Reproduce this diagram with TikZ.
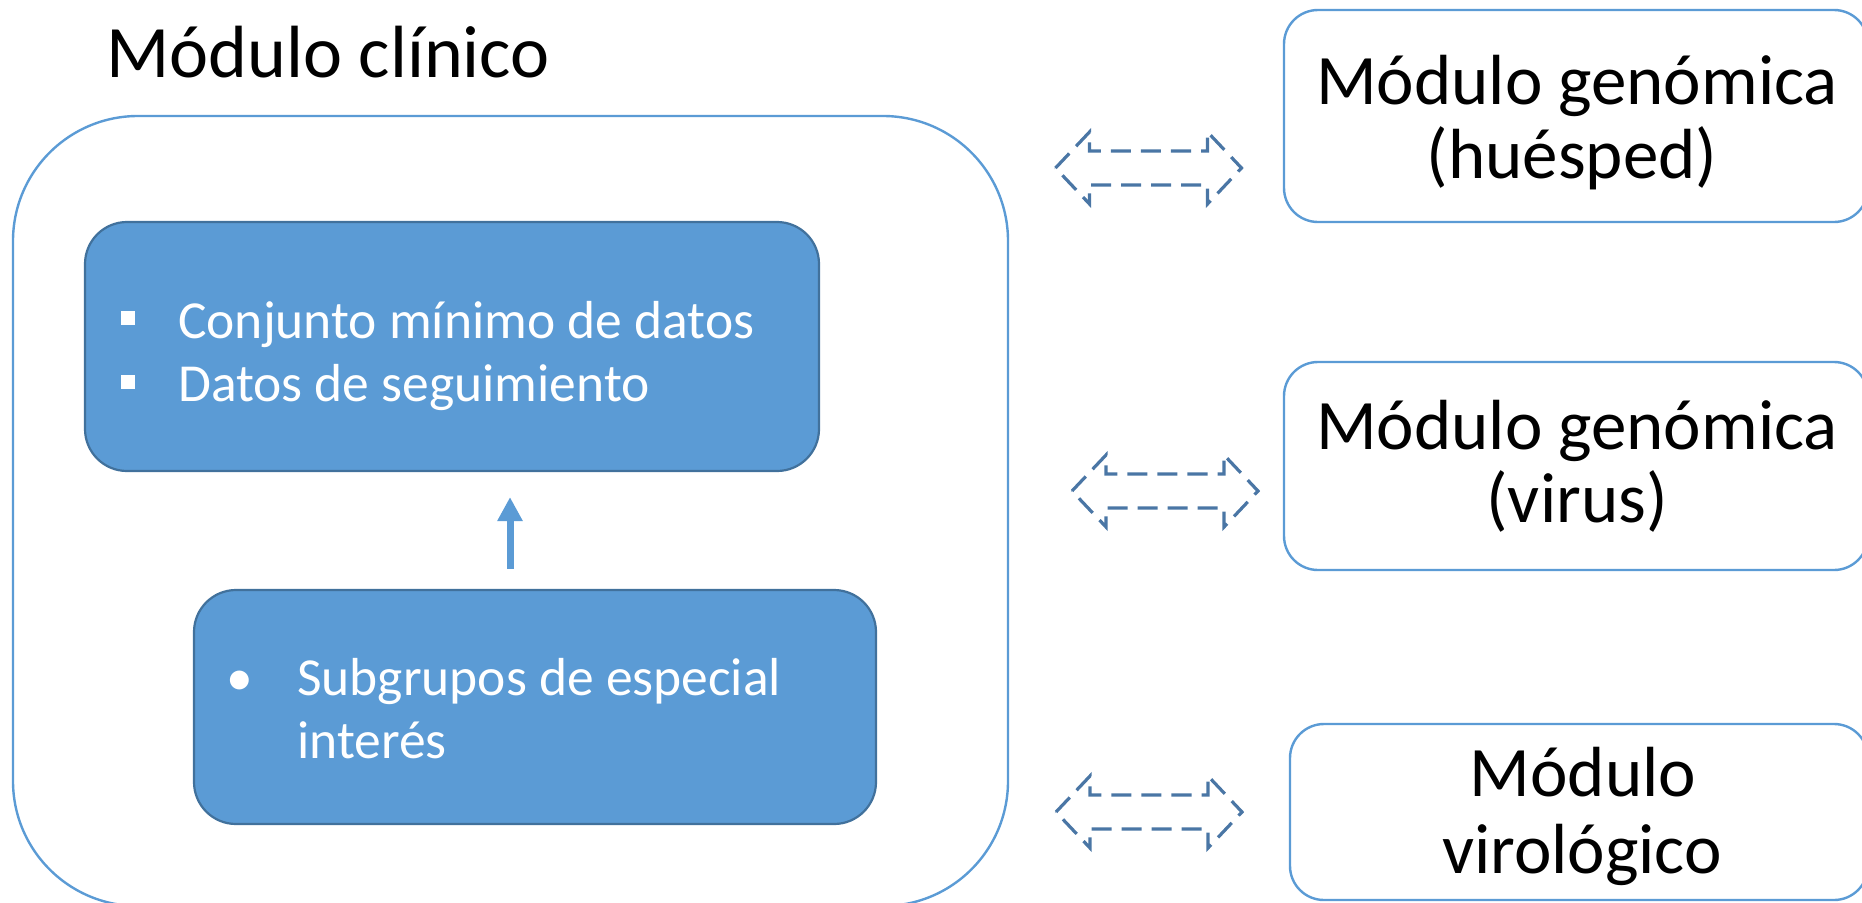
\documentclass[tikz,border=0pt]{standalone}
\usepackage{fontspec}
\setmainfont{Carlito}
\usetikzlibrary{arrows.meta}
\definecolor{acc}{HTML}{5B9BD5}
\definecolor{accd}{HTML}{41719C}
\definecolor{dashcol}{HTML}{4A76A5}
\begin{document}
\begin{tikzpicture}[x=1pt,y=-1pt,
  outerbox/.style={draw=acc, line width=2.4pt, rounded corners=125pt, inner sep=0pt},
  bluebox/.style={draw=accd, fill=acc, line width=2.2pt, rounded corners=42pt, inner sep=0pt},
  modbox/.style={draw=acc, line width=2.4pt, rounded corners=34pt, inner sep=0pt},
  titletxt/.style={font=\fontsize{74}{80}\selectfont, inner sep=0pt, anchor=base west},
  modtxt/.style={font=\fontsize{71}{74}\selectfont, inner sep=0pt, anchor=base},
  itemtxt/.style={font=\fontsize{53.5}{63}\selectfont, text=white, inner sep=0pt, anchor=base west},
  sqbullet/.style={fill=white, draw=none, minimum size=14pt, inner sep=0pt},
  uparr/.style={draw=acc, line width=7pt, -{Triangle[width=24pt,length=24pt]}},
  dblarrow/.pic={
    \draw[draw=dashcol, line width=3.2pt, dash pattern=on 20pt off 10pt]
      (-93,0) -- (-59,-36) -- (-59,-17) -- (59,-17) -- (59,-36) -- (93,0)
      -- (59,36) -- (59,17) -- (-59,17) -- (-59,36) -- cycle;
  }
]
\useasboundingbox (0,0) rectangle (1862,902);

% clinical module
\node[titletxt] (title) at (106,77) {Módulo clínico};
\node[outerbox, minimum width=995pt, minimum height=790pt] (outer) at (510.5,511) {};

\node[bluebox, minimum width=734pt, minimum height=249pt] (blue1) at (452,346.5) {};
\node[sqbullet] (b1) at (128,318) {};
\node[itemtxt] (t1) at (178,338) {Conjunto mínimo de datos};
\node[sqbullet] (b2) at (128,382) {};
\node[itemtxt] (t2) at (178,401) {Datos de seguimiento};

\node[bluebox, minimum width=682pt, minimum height=234pt] (blue2) at (535,707) {};
\node[itemtxt] (b3) at (226,695) {•};
\node[itemtxt] (t3) at (297,695) {Subgrupos de especial};
\node[itemtxt] (t4) at (297,758) {interés};

\draw[uparr] ([shift={(-25pt,20pt)}]blue2.north) -- ([shift={(58pt,-25pt)}]blue1.south);

% right modules
\node[modbox, minimum width=584pt, minimum height=212pt] (modA) at (1576,116) {};
\node[modtxt] (tA1) at (1577,104) {Módulo genómica};
\node[modtxt] (tA2) at (1572,178) {(huésped)};

\node[modbox, minimum width=584pt, minimum height=208pt] (modB) at (1576,466) {};
\node[modtxt] (tB1) at (1577,449) {Módulo genómica};
\node[modtxt] (tB2) at (1577,522) {(virus)};

\node[modbox, minimum width=578pt, minimum height=176pt] (modC) at (1579,812) {};
\node[modtxt] (tC1) at (1583,796) {Módulo};
\node[modtxt] (tC2) at (1582,873) {virológico};

% double arrows
\pic (da1) at (1148.5,168) {dblarrow};
\pic (da2) at (1165,491) {dblarrow};
\pic (da3) at (1149,812) {dblarrow};
\end{tikzpicture}
\end{document}
